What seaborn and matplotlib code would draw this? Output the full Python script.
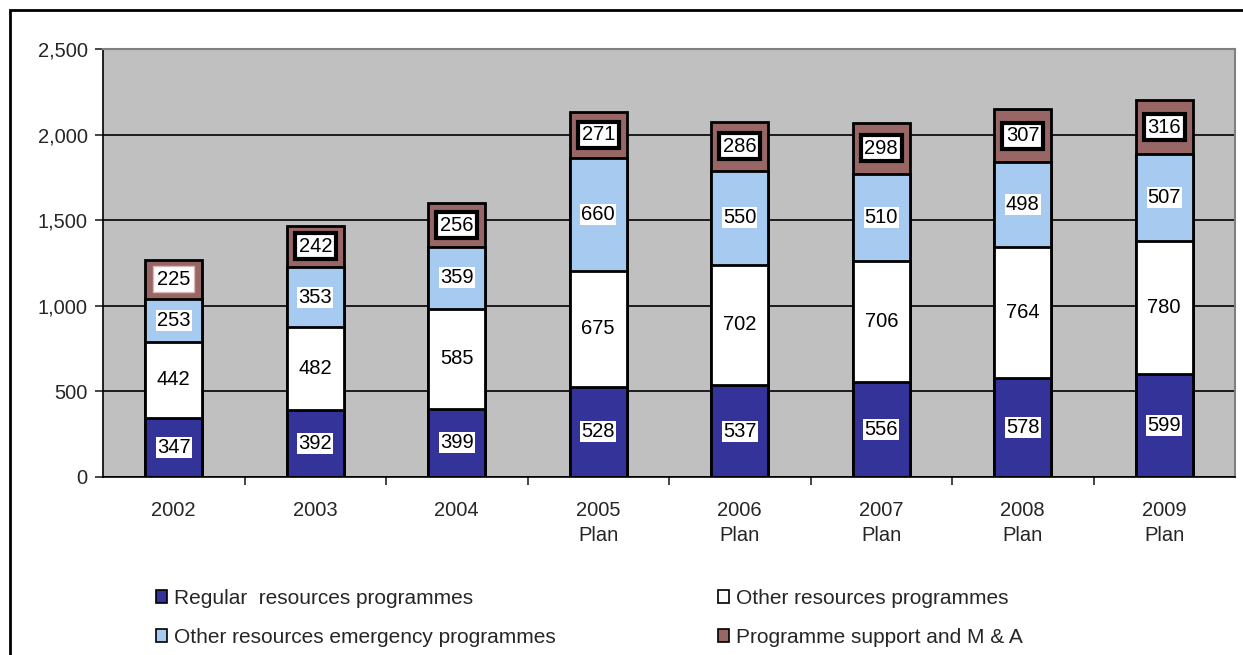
import numpy as np
import pandas as pd
import matplotlib
matplotlib.use("Agg")
import matplotlib.pyplot as plt
import matplotlib.ticker as mticker
from matplotlib.patches import Patch, Rectangle
import seaborn as sns

years = ["2002", "2003", "2004", "2005\nPlan", "2006\nPlan", "2007\nPlan", "2008\nPlan", "2009\nPlan"]
regular = [347, 392, 399, 528, 537, 556, 578, 599]
other = [442, 482, 585, 675, 702, 706, 764, 780]
emergency = [253, 353, 359, 660, 550, 510, 498, 507]
support = [225, 242, 256, 271, 286, 298, 307, 316]

names = ["Regular  resources programmes", "Other resources programmes",
         "Other resources emergency programmes", "Programme support and M & A"]
colors = ["#333399", "#FFFFFF", "#A6CAF0", "#996666"]

sns.set_style("white")
plt.rcParams["font.family"] = ["Liberation Sans", "DejaVu Sans"]

series = [regular, other, emergency, support]
tops = np.cumsum(np.array(series), axis=0)
bottoms = tops - np.array(series)

fig = plt.figure(figsize=(12.43, 6.55), dpi=100)
ax = fig.add_axes([103 / 1243, 1 - 477 / 655, (1235 - 103) / 1243, (477 - 49) / 655])
ax.set_facecolor("#C0C0C0")

# draw cumulative bars back to front so each segment shows
for k in range(3, -1, -1):
    df = pd.DataFrame({"year": years, "value": tops[k]})
    sns.barplot(data=df, x="year", y="value", order=years, color=colors[k],
                saturation=1, width=0.4, edgecolor="black", linewidth=2,
                errorbar=None, ax=ax)

for k in range(4):
    for i in range(len(years)):
        val = series[k][i]
        mid = bottoms[k][i] + val / 2
        if k == 1:
            box = None
        elif k == 3:
            ec = "#D8B8B8" if i == 0 else "black"
            lw = 1 if i == 0 else 3
            box = dict(boxstyle="square,pad=0.18", fc="white", ec=ec, lw=lw)
        else:
            box = dict(boxstyle="square,pad=0.05", fc="white", ec="none")
        ax.text(i, mid, str(val), ha="center", va="center", fontsize=14.5,
                color="black", bbox=box, zorder=5)

ax.set_ylim(0, 2500)
ax.set_xlim(-0.5, len(years) - 0.5)
ax.yaxis.set_major_locator(mticker.MultipleLocator(500))
ax.yaxis.set_major_formatter(mticker.StrMethodFormatter("{x:,.0f}"))
ax.set_axisbelow(True)
ax.yaxis.grid(True, color="black", lw=1.2)
ax.xaxis.grid(False)
ax.set_xlabel("")
ax.set_ylabel("")

ax.tick_params(axis="y", direction="out", length=6, width=1.2, pad=5, labelsize=14.5, left=True)
ax.tick_params(axis="x", which="major", length=0, pad=17, labelsize=14.5)
ax.set_xticks(np.arange(len(years) - 1) + 0.5, minor=True)
ax.tick_params(axis="x", which="minor", direction="out", length=6, width=1.2, bottom=True)
for lab in ax.get_xticklabels():
    lab.set_linespacing(1.45)

for s in ["left", "bottom"]:
    ax.spines[s].set_color("black")
    ax.spines[s].set_linewidth(1.2)
for s in ["top", "right"]:
    ax.spines[s].set_color("#808080")
    ax.spines[s].set_linewidth(1.5)

handles = [Patch(facecolor=c, edgecolor="black", lw=1.2) for c in colors]
order = [0, 2, 1, 3]
fig.legend([handles[j] for j in order], [names[j] for j in order], ncol=2,
           loc="upper left", bbox_to_anchor=(156 / 1243, 1 - 589 / 655),
           frameon=False, fontsize=15, handlelength=0.55, handleheight=0.55,
           handletextpad=0.3, columnspacing=7.8, labelspacing=0.95,
           borderpad=0, borderaxespad=0)

fig.patches.append(Rectangle((10 / 1243, -0.1), 1.2, 1.1 - 10 / 655, transform=fig.transFigure,
                             fill=False, ec="black", lw=2))

fig.savefig("out.png", dpi=100)
